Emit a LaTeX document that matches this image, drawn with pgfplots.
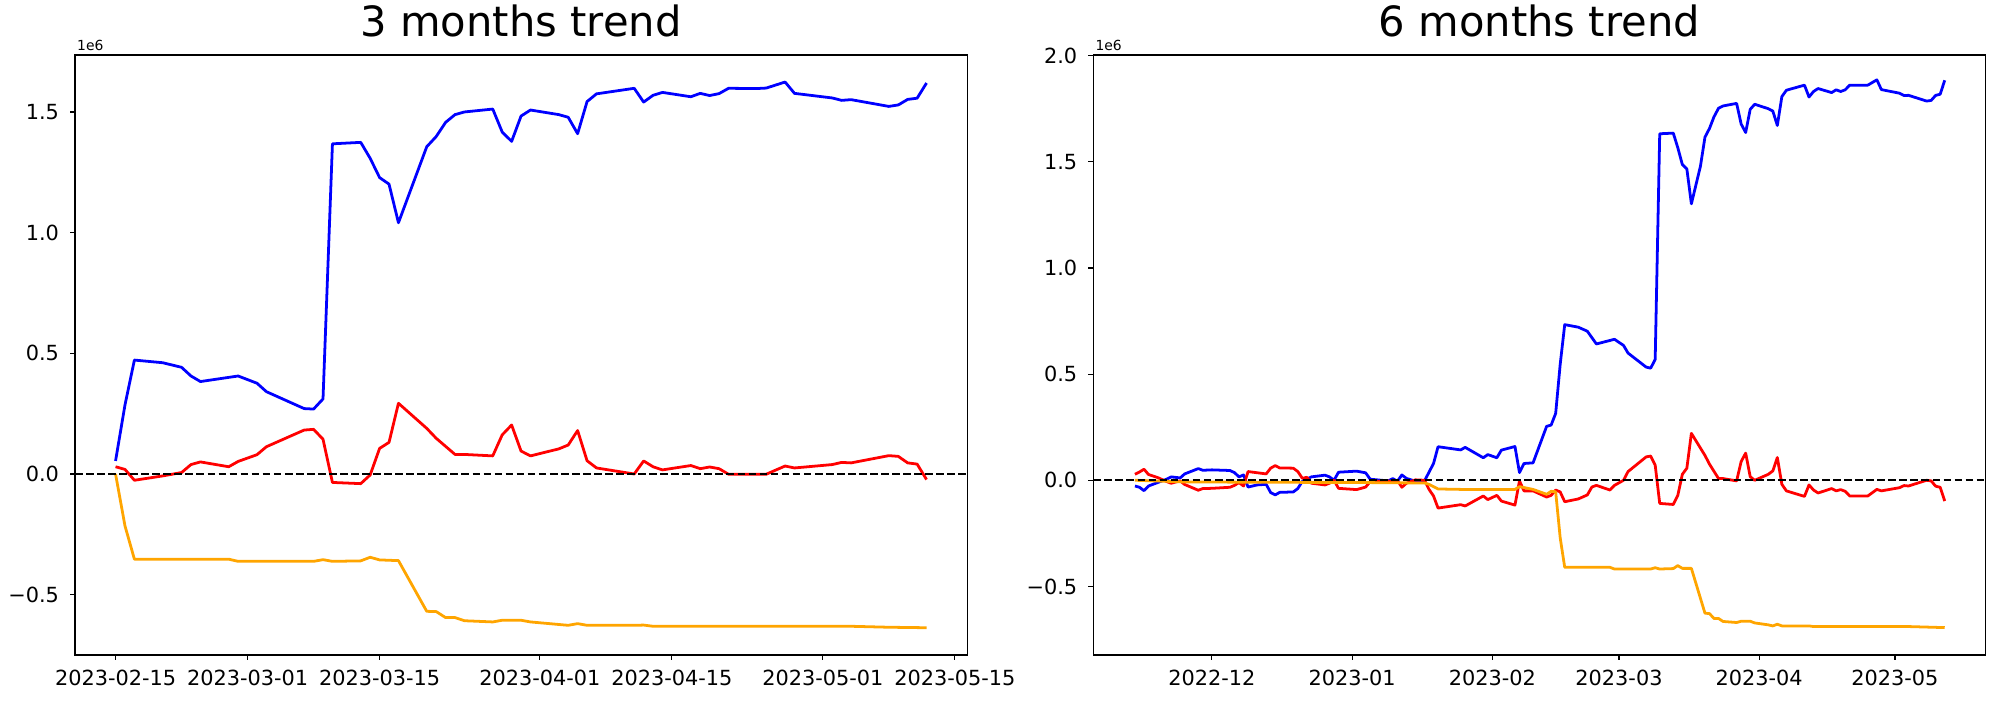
\documentclass[border=0pt]{standalone}
\usepackage{fontspec}
\setmainfont{DejaVu Sans}
\usepackage{pgfplots}
\pgfplotsset{compat=1.18}
\definecolor{mplorange}{RGB}{255,165,0}

\begin{document}
\begin{tikzpicture}
\path[use as bounding box] (0,0) rectangle (1440pt,504pt);
\pgfplotsset{
  every axis/.append style={
    scale only axis, width=642.3pt, height=432pt,
    anchor=south west,
    axis line style={line width=0.8pt},
    tick align=outside, tick pos=left,
    major tick length=3.5pt,
    every tick/.style={black, line width=0.8pt},
    tick label style={font=\fontsize{15}{18}\selectfont},
    xticklabel style={anchor=base, inner sep=0pt, yshift=-18.7pt},
    yticklabel style={anchor=east, inner sep=0pt, xshift=-7.9pt},
    title style={font=\fontsize{30}{36}\selectfont, at={(0.5,1)}, anchor=base, yshift=7pt},
  },
  series/.style={line width=2pt, line join=round},
  zeroline/.style={black, line width=1.5pt, dash pattern=on 5.55pt off 2.4pt},
}

% ---------------- left: 3 months ----------------
\begin{axis}[name=L, at={(54pt,32.4pt)},
  title={3 months trend},
  xmin=-4.3, xmax=90.3, ymin=-0.750, ymax=1.736,
  xtick={0,14,28,45,59,75,89},
  xticklabels={2023-02-15,2023-03-01,2023-03-15,2023-04-01,2023-04-15,2023-05-01,2023-05-15},
  ytick={-0.5,0,0.5,1,1.5},
  yticklabels={−0.5,0.0,0.5,1.0,1.5},
]
\addplot[series, blue] coordinates {
(0,0.054) (1,0.286) (2,0.472) (5,0.461) (7,0.442) (8,0.406) (9,0.383) (13,0.406)
(15,0.376) (16,0.341) (20,0.271) (21,0.269) (22,0.311) (23,1.368) (26,1.374)
(27,1.308) (28,1.228) (29,1.201) (30,1.041) (33,1.356) (34,1.398) (35,1.457)
(36,1.489) (37,1.500) (40,1.512) (41,1.417) (42,1.378) (43,1.483) (44,1.508)
(47,1.489) (48,1.478) (49,1.410) (50,1.543) (51,1.575) (55,1.598) (56,1.541)
(57,1.569) (58,1.581) (61,1.563) (62,1.577) (63,1.568) (64,1.576) (65,1.598)
(68,1.597) (69,1.599) (71,1.624) (72,1.577) (76,1.558) (77,1.548) (78,1.551)
(82,1.523) (83,1.529) (84,1.552) (85,1.557) (86,1.620)
};
\addplot[series, red] coordinates {
(0,0.030) (1,0.019) (2,-0.026) (5,-0.008) (7,0.006) (8,0.039) (9,0.050) (12,0.030)
(13,0.052) (15,0.080) (16,0.113) (20,0.182) (21,0.185) (22,0.144) (23,-0.035)
(26,-0.040) (27,-0.004) (28,0.106) (29,0.131) (30,0.293) (33,0.189) (34,0.148)
(36,0.081) (37,0.081) (40,0.075) (41,0.162) (42,0.203) (43,0.095) (44,0.075)
(47,0.104) (48,0.120) (49,0.180) (50,0.055) (51,0.025) (55,0.000) (56,0.054)
(57,0.030) (58,0.017) (61,0.035) (62,0.022) (63,0.029) (64,0.022) (65,-0.001)
(69,-0.001) (71,0.033) (72,0.025) (76,0.039) (77,0.048) (78,0.046) (82,0.076)
(83,0.073) (84,0.046) (85,0.041) (86,-0.023)
};
\addplot[series, mplorange] coordinates {
(0,0) (1,-0.215) (2,-0.353) (12,-0.353) (13,-0.362) (21,-0.362) (22,-0.355)
(23,-0.362) (26,-0.360) (27,-0.345) (28,-0.356) (30,-0.359) (33,-0.569)
(34,-0.570) (35,-0.595) (36,-0.595) (37,-0.608) (40,-0.613) (41,-0.606)
(43,-0.606) (44,-0.613) (48,-0.627) (49,-0.620) (50,-0.627) (55,-0.627)
(56,-0.626) (57,-0.631) (78,-0.631) (82,-0.635) (86,-0.637)
};
\addplot[zeroline] coordinates {(-4.3,0) (90.3,0)};
\end{axis}
\node[anchor=base west, inner sep=0pt, font=\fontsize{10}{12}\selectfont] at ([xshift=1.4pt,yshift=3.1pt]L.north west) {1e6};

% ---------------- right: 6 months ----------------
\begin{axis}[name=R, at={(787.2pt,32.4pt)},
  title={6 months trend},
  xmin=-26.2, xmax=171.0, ymin=-0.823, ymax=2.003,
  xtick={0,31,62,90,121,151},
  xticklabels={2022-12,2023-01,2023-02,2023-03,2023-04,2023-05},
  ytick={-0.5,0,0.5,1,1.5,2},
  yticklabels={−0.5,0.0,0.5,1.0,1.5,2.0},
]
\addplot[series, blue] coordinates {
(-17,-0.027) (-16,-0.033) (-15,-0.049) (-14,-0.027) (-12,-0.011) (-10,0.005)
(-9,0.016) (-7,0.011) (-6,0.030) (-3,0.055) (-2,0.047) (0,0.049) (4,0.046)
(5,0.036) (6,0.016) (7,0.025) (8,-0.032) (10,-0.022) (12,-0.019) (13,-0.058)
(14,-0.069) (15,-0.057) (18,-0.055) (19,-0.039) (20,-0.005) (22,0.016) (25,0.024)
(26,0.016) (27,0.000) (28,0.038) (32,0.043) (34,0.035) (35,0.005) (39,-0.003)
(40,0.008) (41,-0.005) (42,0.025) (43,0.009) (45,-0.005) (47,-0.003) (49,0.079)
(50,0.158) (55,0.143) (56,0.155) (60,0.106) (61,0.121) (63,0.106) (64,0.142)
(67,0.159) (68,0.036) (69,0.079) (71,0.082) (74,0.254) (75,0.260) (76,0.315)
(77,0.546) (78,0.733) (81,0.721) (83,0.702) (85,0.642) (89,0.664) (91,0.635)
(92,0.599) (96,0.533) (97,0.528) (98,0.569) (99,1.632) (102,1.635) (103,1.566)
(104,1.487) (105,1.466) (106,1.302) (108,1.479) (109,1.616) (110,1.657)
(111,1.712) (112,1.752) (113,1.763) (116,1.775) (117,1.678) (118,1.638)
(119,1.747) (120,1.771) (123,1.750) (124,1.739) (125,1.671) (126,1.807)
(127,1.837) (131,1.861) (132,1.805) (133,1.831) (134,1.845) (137,1.826)
(138,1.839) (139,1.831) (140,1.839) (141,1.861) (145,1.861) (147,1.886)
(148,1.840) (152,1.823) (153,1.812) (154,1.813) (158,1.786) (159,1.789)
(160,1.813) (161,1.818) (162,1.884)
};
\addplot[series, red] coordinates {
(-17,0.028) (-16,0.039) (-15,0.052) (-14,0.027) (-12,0.013) (-10,-0.006)
(-9,-0.014) (-7,-0.003) (-6,-0.020) (-3,-0.047) (-2,-0.039) (0,-0.038) (4,-0.033)
(5,-0.024) (6,-0.011) (7,-0.027) (8,0.041) (12,0.030) (13,0.057) (14,0.069)
(15,0.058) (18,0.057) (19,0.041) (20,0.009) (21,0.014) (22,-0.014) (25,-0.022)
(26,-0.014) (27,0.000) (28,-0.038) (32,-0.044) (34,-0.032) (35,-0.006)
(39,-0.003) (40,-0.011) (41,0.000) (42,-0.033) (43,-0.014) (45,0.002) (47,0.000)
(48,-0.043) (49,-0.074) (50,-0.131) (55,-0.115) (56,-0.121) (60,-0.074)
(61,-0.091) (63,-0.071) (64,-0.098) (67,-0.117) (68,-0.003) (69,-0.050)
(71,-0.050) (74,-0.079) (75,-0.071) (76,-0.046) (77,-0.055) (78,-0.101)
(81,-0.088) (83,-0.069) (84,-0.032) (85,-0.024) (88,-0.046) (89,-0.024)
(91,0.000) (92,0.041) (96,0.110) (97,0.114) (98,0.071) (99,-0.109) (102,-0.114)
(103,-0.071) (104,0.028) (105,0.057) (106,0.221) (109,0.117) (110,0.076)
(112,0.008) (113,0.008) (116,-0.003) (117,0.088) (118,0.128) (119,0.017)
(120,0.000) (123,0.028) (124,0.044) (125,0.107) (126,-0.019) (127,-0.050)
(131,-0.076) (132,-0.022) (133,-0.046) (134,-0.060) (137,-0.039) (138,-0.050)
(139,-0.044) (140,-0.052) (141,-0.074) (145,-0.074) (147,-0.043) (148,-0.050)
(152,-0.035) (153,-0.025) (154,-0.027) (158,0.000) (159,-0.003) (160,-0.028)
(161,-0.033) (162,-0.098)
};
\addplot[series, mplorange] coordinates {
(-17,0.000) (-10,-0.005) (-6,-0.008) (35,-0.011) (47,-0.013) (48,-0.019)
(50,-0.041) (55,-0.043) (67,-0.043) (68,-0.030) (71,-0.043) (74,-0.066)
(75,-0.052) (76,-0.054) (77,-0.271) (78,-0.410) (88,-0.410) (89,-0.418)
(97,-0.418) (98,-0.412) (99,-0.418) (102,-0.416) (103,-0.402) (104,-0.415)
(106,-0.415) (109,-0.626) (110,-0.628) (111,-0.651) (112,-0.651) (113,-0.665)
(116,-0.670) (117,-0.664) (119,-0.664) (120,-0.672) (123,-0.681) (124,-0.686)
(125,-0.678) (126,-0.686) (132,-0.686) (133,-0.689) (154,-0.689) (162,-0.694)
};
\addplot[zeroline] coordinates {(-26.2,0) (171.0,0)};
\end{axis}
\node[anchor=base west, inner sep=0pt, font=\fontsize{10}{12}\selectfont] at ([xshift=1.4pt,yshift=3.1pt]R.north west) {1e6};
\end{tikzpicture}
\end{document}
